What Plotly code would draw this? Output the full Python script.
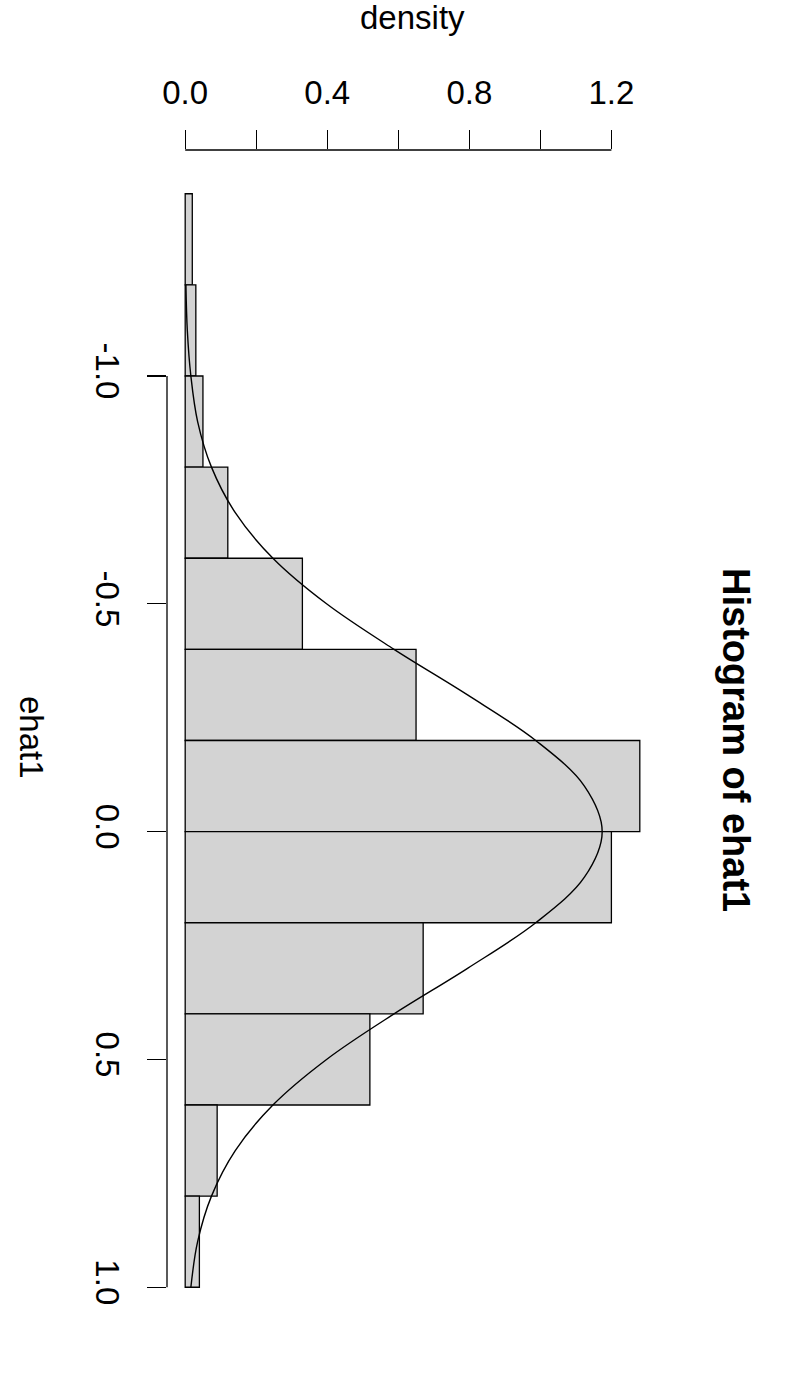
import plotly.graph_objects as go

# Histogram bins of ehat1 (bin centres, width 0.2) and densities
bin_centers = [-1.3, -1.1, -0.9, -0.7, -0.5, -0.3, -0.1, 0.1, 0.3, 0.5, 0.7, 0.9]
densities = [0.02, 0.03, 0.05, 0.12, 0.33, 0.65, 1.28, 1.20, 0.67, 0.52, 0.09, 0.04]

# Overlaid density curve
curve_x = [-1.2, -1.1, -1.0, -0.9, -0.8, -0.7, -0.6, -0.5, -0.4, -0.3, -0.2, -0.1,
           0.0, 0.1, 0.2, 0.3, 0.4, 0.5, 0.6, 0.7, 0.8, 0.9, 1.0]
curve_y = [0.002, 0.006, 0.016, 0.035, 0.074, 0.141, 0.247, 0.398, 0.588, 0.795, 0.987, 1.124,
           1.174, 1.124, 0.987, 0.795, 0.588, 0.398, 0.247, 0.141, 0.074, 0.035, 0.016]

density_ticks = [0.0, 0.2, 0.4, 0.6, 0.8, 1.0, 1.2]
density_ticktext = ["0.0", "", "0.4", "", "0.8", "", "1.2"]
ehat_ticks = [-1.0, -0.5, 0.0, 0.5, 1.0]
ehat_ticktext = ["-1.0", "-0.5", "0.0", "0.5", "1.0"]

FONT = "Liberation Sans, Arial, Helvetica, sans-serif"
BASE = 33

fig = go.Figure()
fig.add_trace(go.Bar(
    x=densities, y=bin_centers, orientation="h", width=0.2,
    marker=dict(color="#D3D3D3", line=dict(color="black", width=1.3)),
    hoverinfo="skip",
))
fig.add_trace(go.Scatter(
    x=curve_y, y=curve_x, mode="lines",
    line=dict(color="black", width=1.4, shape="spline"),
    hoverinfo="skip",
))

W, H = 808, 1394
L, R, T, B = 167, 150, 150, 63

fig.update_layout(
    width=W, height=H, autosize=False,
    margin=dict(l=L, r=R, t=T, b=B, pad=0),
    paper_bgcolor="white", plot_bgcolor="white",
    showlegend=False, bargap=0,
    font=dict(family=FONT, size=BASE, color="black"),
    xaxis=dict(
        side="top", range=[-0.0512, 1.3312],
        tickvals=density_ticks, ticktext=density_ticktext,
        ticks="outside", ticklen=19, tickwidth=1.3, tickcolor="black",
        showline=False, showgrid=False, zeroline=False,
        tickfont=dict(family=FONT, size=BASE, color="black"),
        ticklabelstandoff=13,
    ),
    yaxis=dict(
        range=[1.096, -1.496],
        tickvals=ehat_ticks, ticktext=ehat_ticktext, tickangle=90,
        ticks="outside", ticklen=19, tickwidth=1.3, tickcolor="black",
        showline=False, showgrid=False, zeroline=False,
        tickfont=dict(family=FONT, size=BASE, color="black"),
        ticklabelstandoff=11,
    ),
)

# R-style axis lines spanning only first to last tick
fig.add_shape(type="line", xref="x", yref="paper",
              x0=density_ticks[0], x1=density_ticks[-1], y0=1, y1=1,
              line=dict(color="black", width=1.3))
fig.add_shape(type="line", xref="paper", yref="y",
              x0=0, x1=0, y0=ehat_ticks[0], y1=ehat_ticks[-1],
              line=dict(color="black", width=1.3))

pw = W - L - R
ph = H - T - B

def px_to_paper_x(p):
    return (p - L) / pw

def px_to_paper_y(p):
    return (H - B - p) / ph

fig.add_annotation(text="density", xref="paper", yref="paper",
                   x=px_to_paper_x(412.5), y=px_to_paper_y(18),
                   xanchor="center", yanchor="middle", showarrow=False,
                   font=dict(family=FONT, size=BASE, color="black"))
fig.add_annotation(text="ehat1", xref="paper", yref="paper",
                   x=px_to_paper_x(31.5), y=px_to_paper_y(737.5),
                   xanchor="center", yanchor="middle", showarrow=False, textangle=90,
                   font=dict(family=FONT, size=BASE, color="black"))
fig.add_annotation(text="<b>Histogram of ehat1</b>", xref="paper", yref="paper",
                   x=px_to_paper_x(736), y=px_to_paper_y(740),
                   xanchor="center", yanchor="middle", showarrow=False, textangle=90,
                   font=dict(family=FONT, size=38, color="black"))

fig.write_html("out.html",
               config={"displayModeBar": False, "staticPlot": True},
               post_script="document.body.style.margin='0';document.body.style.overflow='hidden';")
